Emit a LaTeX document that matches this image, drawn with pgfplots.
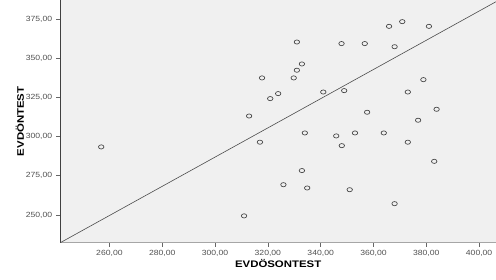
\documentclass[border=0pt]{standalone}
\usepackage{pgfplots}
\pgfplotsset{compat=1.18}
\usepackage{fontspec}
\setmainfont{Liberation Sans}
\definecolor{bgfill}{HTML}{F0F0F0}
\definecolor{ticktxt}{HTML}{505050}
\begin{document}
\begin{tikzpicture}
\useasboundingbox (-60.3pt,-37.3pt) rectangle (435.7pt,242.7pt);
\begin{axis}[
  at={(0pt,0pt)}, anchor=south west,
  scale only axis,
  width=435.7pt, height=242.7pt,
  xmin=241.4, xmax=406.4, ymin=232.3, ymax=387.1,
  axis x line*=bottom, axis y line*=left,
  axis line style={draw=black!75, line width=0.8pt},
  x axis line style={draw=black!35, line width=1.2pt},
  axis background/.style={fill=bgfill},
  xtick={260,280,...,400}, ytick={250,275,...,375},
  tick align=outside, major tick length=4pt,
  tick style={draw=black!60, line width=0.6pt},
  /pgf/number format/.cd, fixed, fixed zerofill, precision=2, use comma, 1000 sep={}, assume math mode=true,
  /pgfplots/.cd,
  tick label style={font=\fontsize{7.5}{8}\selectfont, text=ticktxt},
  xticklabel style={xscale=1.15},
  yticklabel style={xscale=1.15},
  xlabel={\scalebox{1.2}[1]{\fontsize{9.5}{10}\selectfont\bfseries EVDÖSONTEST}},
  ylabel={\scalebox{1.2}[1]{\fontsize{9.5}{10}\selectfont\bfseries EVDÖNTEST}},
  xlabel style={yshift=3.5pt},
  ylabel style={yshift=-5.5pt},
  clip=false,
]
\addplot[only marks, mark=o, mark size=2.1pt, mark options={xscale=1.3, draw=black!75, line width=0.65pt}] table {
x y
256.9 293.4
311.0 249.4
331.0 360.3
347.9 359.3
356.7 359.3
332.9 346.3
331.0 342.3
317.8 337.4
329.8 337.4
323.9 327.4
320.9 324.2
341.0 328.4
348.9 329.3
312.9 313.1
357.6 315.5
365.9 370.3
370.9 373.3
381.0 370.3
368.0 357.3
378.9 336.3
373.0 328.4
383.9 317.4
376.9 310.4
317.0 296.4
334.0 302.3
345.9 300.4
353.0 302.3
348.0 294.2
332.9 278.3
325.9 269.3
334.9 267.2
351.0 266.1
363.9 302.3
373.0 296.4
383.0 284.2
368.0 257.2
};
\addplot[draw=black!70, line width=0.6pt] coordinates {(241.4,232.3) (406.4,386.0)};
\end{axis}
\end{tikzpicture}
\end{document}
